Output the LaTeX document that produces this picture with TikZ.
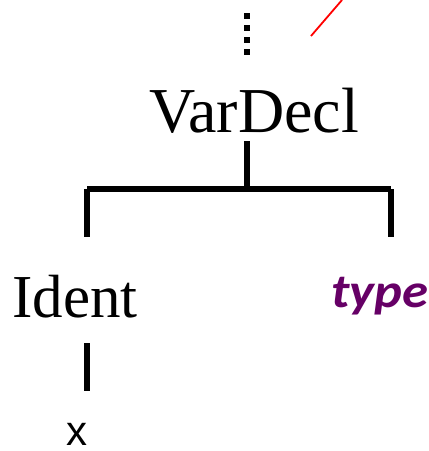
\documentclass[tikz,border=0pt]{standalone}
\usepackage{fontspec}
\setmainfont{Liberation Serif}
\newfontfamily\typefont{Carlito}
\newfontfamily\xfont{Liberation Sans}
\definecolor{typepurple}{HTML}{660066}
\begin{document}
\begin{tikzpicture}[x=1pt,y=-1pt,
  treeline/.style={line width=6pt,line cap=butt},
  label/.style={inner sep=0pt,anchor=base}]
\useasboundingbox (0,0) rectangle (429,451);
% nodes
\node[label,font=\fontsize{64}{64}\selectfont] (vd) at (254,132) {VarDecl};
\node[label,font=\fontsize{61}{61}\selectfont] (id) at (75,317) {Ident};
\node[label,font=\typefont\bfseries\itshape\fontsize{48}{48}\selectfont,text=typepurple,xscale=1.1] (ty) at (379.5,307) {type};
\node[label,font=\xfont\fontsize{42}{42}\selectfont,text depth=0pt] (x) at (77,445) {x};
% coordinates
\coordinate (dtop) at (247,13);
\coordinate (dbot) at (247,55);
\coordinate (vdb) at (247,141);
\coordinate (hm) at (247,189);
\coordinate (hl) at (87,189);
\coordinate (hr) at (391,189);
\coordinate (idt) at (87,237);
\coordinate (tyt) at (391,237);
\coordinate (ida) at (87,343);
\coordinate (idb) at (87,391);
\coordinate (ra) at (311,36);
\coordinate (rb) at (342,0);
% connectors
\draw[line width=6pt,dash pattern=on 6pt off 6pt] (dtop) -- (dbot);
\draw[red,line width=1.8pt] (ra) -- (rb);
\draw[treeline] (vdb) -- ([yshift=3pt]hm);
\draw[treeline] (hl) -- (hr);
\draw[treeline] (hl) -- (idt);
\draw[treeline] (hr) -- (tyt);
\draw[treeline] (ida) -- (idb);
\end{tikzpicture}
\end{document}
